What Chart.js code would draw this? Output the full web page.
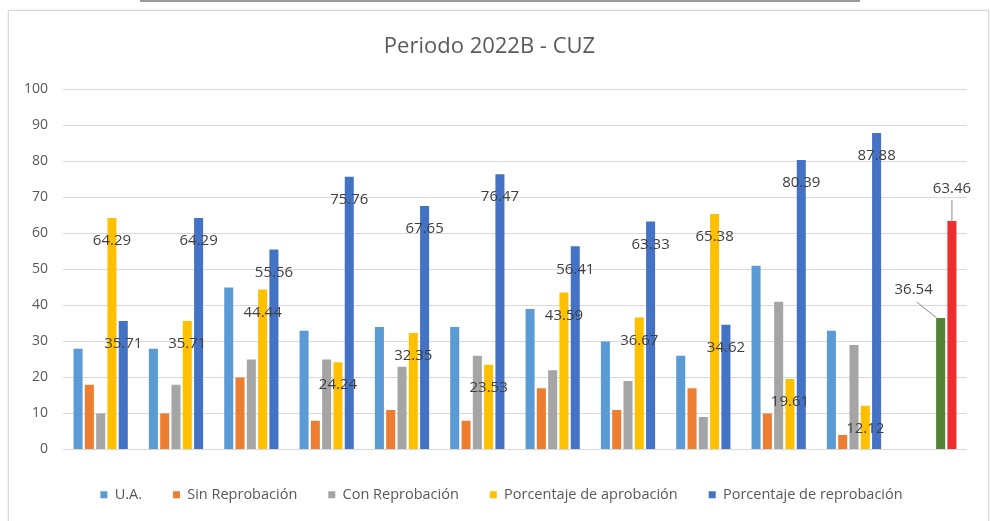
<!DOCTYPE html>
<html>
<head>
<meta charset="utf-8">
<script src="https://cdn.jsdelivr.net/npm/chart.js@4"></script>
<style>
  html, body { margin: 0; padding: 0; background: #fff; overflow: hidden; }
  #wrap { position: relative; width: 990px; height: 521px; }
  #topline { position: absolute; left: 140px; top: 0; width: 720px; height: 2px; background: #9a9a9a; }
  #frame { position: absolute; left: 8px; top: 10px; width: 979px; height: 540px; border: 1px solid #d9d9d9; box-shadow: 0 0 2px rgba(0,0,0,0.12); }
  #box { position: absolute; left: 0; top: 0; width: 990px; height: 521px; }
</style>
</head>
<body>
<div id="wrap">
  <div id="topline"></div>
  <div id="frame"></div>
  <div id="box"><canvas id="periodoChart"></canvas></div>
</div>
<script>
const categories = ["1", "2", "3", "4", "5", "6", "7", "8", "9", "10", "11", "Promedio"];
const ua = [28, 28, 45, 33, 34, 34, 39, 30, 26, 51, 33, null];
const sinReprobacion = [18, 10, 20, 8, 11, 8, 17, 11, 17, 10, 4, null];
const conReprobacion = [10, 18, 25, 25, 23, 26, 22, 19, 9, 41, 29, null];
const porcAprobacion = [64.29, 35.71, 44.44, 24.24, 32.35, 23.53, 43.59, 36.67, 65.38, 19.61, 12.12, 36.54];
const porcReprobacion = [35.71, 64.29, 55.56, 75.76, 67.65, 76.47, 56.41, 63.33, 34.62, 80.39, 87.88, 63.46];
const yMin = 0;
const yMax = 100;
const yStep = 10;

const FONT = "'Open Sans', sans-serif";
const lastIndex = categories.length - 1;

// value labels on the two percentage series; the last group has moved labels with leader lines
const barLabels = {
  id: "barLabels",
  afterDatasetsDraw(chart) {
    const ctx = chart.ctx;
    ctx.save();
    ctx.font = "15px " + FONT;
    ctx.fillStyle = "#404040";
    ctx.strokeStyle = "#8c8c8c";
    ctx.lineWidth = 1;
    ctx.textAlign = "center";
    ctx.textBaseline = "middle";
    [3, 4].forEach((di) => {
      const meta = chart.getDatasetMeta(di);
      const values = chart.data.datasets[di].data;
      meta.data.forEach((bar, i) => {
        if (values[i] == null) return;
        const text = values[i].toFixed(2);
        if (i === lastIndex) {
          if (di === 3) {
            const lx = bar.x - 27, ly = bar.y - 28;
            ctx.beginPath();
            ctx.moveTo(lx + 3, ly + 12);
            ctx.lineTo(bar.x - 4, bar.y);
            ctx.stroke();
            ctx.fillText(text, lx, ly);
          } else {
            const lx = bar.x, ly = bar.y - 32;
            ctx.beginPath();
            ctx.moveTo(lx, ly + 11);
            ctx.lineTo(bar.x, bar.y);
            ctx.stroke();
            ctx.fillText(text, lx, ly);
          }
        } else {
          ctx.fillText(text, bar.x, bar.y + 23);
        }
      });
    });
    ctx.restore();
  },
};

// the legend in the picture sits a little right of the canvas centre
const legendShift = {
  id: "legendShift",
  afterLayout(chart) {
    chart.legend.left += 24;
  },
};

const ctx = document.getElementById("periodoChart");

new Chart(ctx, {
  type: "bar",
  data: {
    labels: categories,
    datasets: [
      { label: "U.A.", data: ua, backgroundColor: "#5B9BD5" },
      { label: "Sin Reprobación", data: sinReprobacion, backgroundColor: "#ED7D31" },
      { label: "Con Reprobación", data: conReprobacion, backgroundColor: "#A5A5A5" },
      {
        label: "Porcentaje de aprobación",
        data: porcAprobacion,
        backgroundColor: (c) => (c.dataIndex === lastIndex ? "#548235" : "#FFC000"),
      },
      {
        label: "Porcentaje de reprobación",
        data: porcReprobacion,
        backgroundColor: (c) => (c.dataIndex === lastIndex ? "#EE2D2D" : "#4472C4"),
      },
    ],
  },
  options: {
    responsive: true,
    maintainAspectRatio: false,
    animation: false,
    datasets: {
      bar: { categoryPercentage: 0.75, barPercentage: 0.8 },
    },
    layout: {
      padding: { left: 12, right: 23, top: 0, bottom: 9 },
    },
    scales: {
      x: {
        grid: { display: false, drawTicks: true, tickLength: 7 },
        border: { display: false },
        ticks: { display: false },
      },
      y: {
        min: yMin,
        max: yMax,
        ticks: {
          stepSize: yStep,
          padding: 15,
          color: "#595959",
          font: { family: FONT, size: 14 },
        },
        grid: { color: "#d9d9d9", lineWidth: 1, drawTicks: false },
        border: { display: false },
        afterFit: (scale) => {
          scale.width = 51;
        },
      },
    },
    plugins: {
      title: {
        display: true,
        text: "Periodo 2022B - CUZ",
        color: "#595959",
        font: { family: FONT, size: 22, weight: "normal" },
        padding: { top: 34, bottom: 29 },
      },
      legend: {
        position: "bottom",
        labels: {
          boxWidth: 7,
          boxHeight: 7,
          padding: 31,
          color: "#595959",
          font: { family: FONT, size: 14.5 },
        },
      },
      tooltip: { enabled: false },
    },
  },
  plugins: [barLabels, legendShift],
});
</script>
</body>
</html>
